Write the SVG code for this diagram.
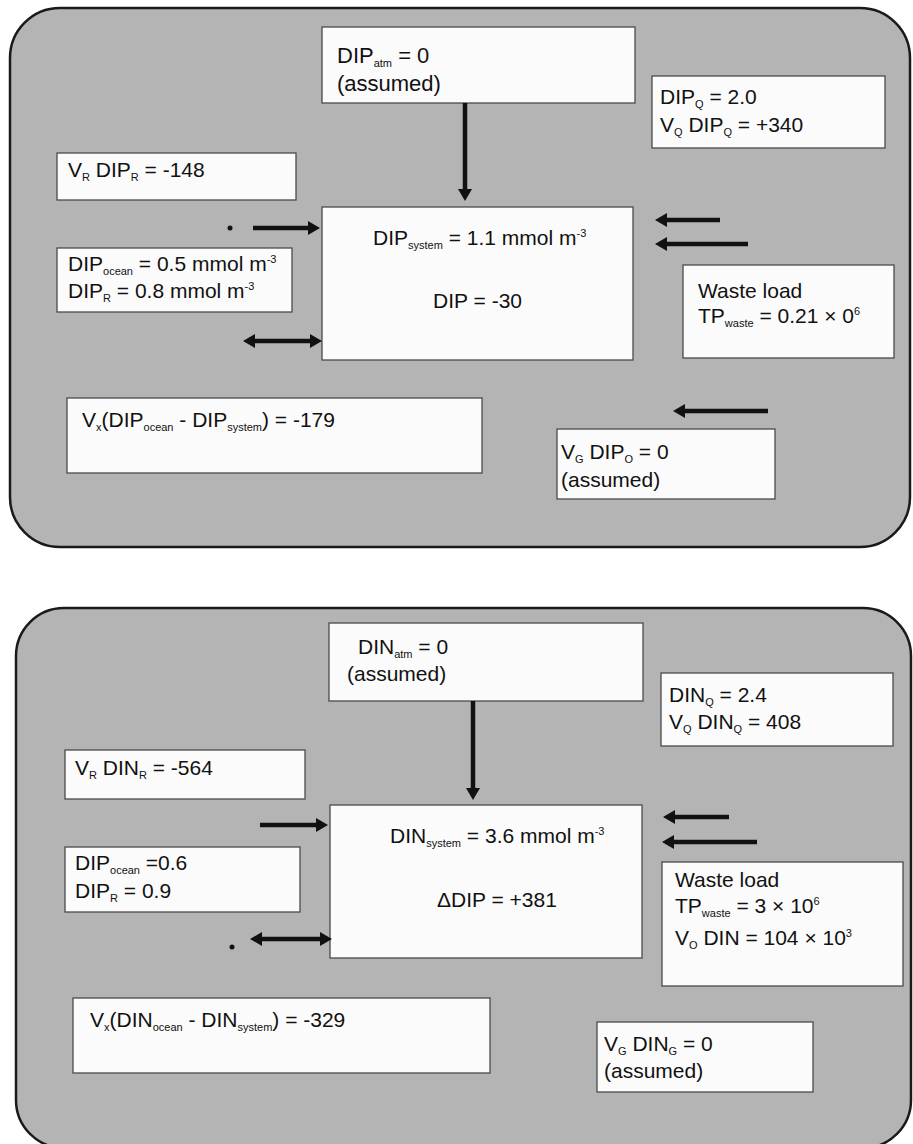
<svg xmlns="http://www.w3.org/2000/svg" width="913" height="1144" viewBox="0 0 913 1144">
<style>
.panel{fill:#b4b4b4;stroke:#1a1a1a;stroke-width:2.5}
.box{fill:#fbfbfb;stroke:#4a4a4a;stroke-width:1.3}
.t{font-family:"Liberation Sans",Arial,sans-serif;font-size:21px;fill:#111}
.s{font-size:11px}
.arr{fill:none;stroke:#111;stroke-width:4.5}
.one{marker-end:url(#ah)}
.two{marker-start:url(#ah);marker-end:url(#ah)}
</style>
<defs>
<marker id="ah" markerUnits="userSpaceOnUse" markerWidth="12" markerHeight="14" refX="2" refY="7" orient="auto-start-reverse">
<path d="M0,0 L12,7 L0,14 z" fill="#111"/>
</marker>
</defs>
<rect width="913" height="1144" fill="#ffffff"/>

<g id="panel-dip">
<rect class="panel" x="10" y="8" width="900" height="539" rx="50" ry="50"/>
</g>
<g id="panel-din">
<rect class="panel" x="16" y="608" width="895" height="540" rx="48" ry="48"/>
</g>

<!-- TOP PANEL NODES -->
<g id="dip-atm">
<rect class="box" x="322" y="27" width="313" height="76"/>
<text class="t" x="337" y="63" style="font-size:22px">DIP<tspan class="s" dy="4">atm</tspan><tspan dy="-4"> = 0</tspan></text>
<text class="t" x="337" y="91" style="font-size:22px">(assumed)</text>
</g>
<g id="dip-q">
<rect class="box" x="652" y="76" width="233" height="72"/>
<text class="t" x="660" y="104">DIP<tspan class="s" dy="4">Q</tspan><tspan dy="-4"> = 2.0</tspan></text>
<text class="t" x="660" y="132">V<tspan class="s" dy="4">Q</tspan><tspan dy="-4"> DIP</tspan><tspan class="s" dy="4">Q</tspan><tspan dy="-4"> = +340</tspan></text>
</g>
<g id="vr-dipr">
<rect class="box" x="57" y="153" width="239" height="47"/>
<text class="t" x="68" y="177">V<tspan class="s" dy="4">R</tspan><tspan dy="-4"> DIP</tspan><tspan class="s" dy="4">R</tspan><tspan dy="-4"> = -148</tspan></text>
</g>
<g id="dip-system">
<rect class="box" x="322" y="207" width="311" height="153"/>
<text class="t" x="373" y="245">DIP<tspan class="s" dy="4">system</tspan><tspan dy="-4"> = 1.1 mmol m</tspan><tspan class="s" dy="-8">-3</tspan></text>
<text class="t" x="522" y="308" text-anchor="end">DIP = -30</text>
</g>
<g id="dip-ocean">
<rect class="box" x="57" y="248" width="235" height="64"/>
<text class="t" x="68" y="271">DIP<tspan class="s" dy="4">ocean</tspan><tspan dy="-4"> = 0.5 mmol m</tspan><tspan class="s" dy="-8">-3</tspan></text>
<text class="t" x="68" y="298">DIP<tspan class="s" dy="4">R</tspan><tspan dy="-4"> = 0.8 mmol m</tspan><tspan class="s" dy="-8">-3</tspan></text>
</g>
<g id="dip-waste">
<rect class="box" x="683" y="265" width="211" height="93"/>
<text class="t" x="698" y="298">Waste load</text>
<text class="t" x="698" y="323">TP<tspan class="s" dy="4">waste</tspan><tspan dy="-4"> = 0.21 × 0</tspan><tspan class="s" dy="-8">6</tspan></text>
</g>
<g id="dip-vx">
<rect class="box" x="67" y="398" width="415" height="75"/>
<text class="t" x="82" y="427">V<tspan class="s" dy="4">x</tspan><tspan dy="-4">(DIP</tspan><tspan class="s" dy="4">ocean</tspan><tspan dy="-4"> - DIP</tspan><tspan class="s" dy="4">system</tspan><tspan dy="-4">) = -179</tspan></text>
</g>
<g id="dip-vg">
<rect class="box" x="557" y="429" width="218" height="70"/>
<text class="t" x="561" y="459">V<tspan class="s" dy="4">G</tspan><tspan dy="-4"> DIP</tspan><tspan class="s" dy="4">O</tspan><tspan dy="-4"> = 0</tspan></text>
<text class="t" x="561" y="487">(assumed)</text>
</g>

<!-- BOTTOM PANEL NODES -->
<g id="din-atm">
<rect class="box" x="329" y="623" width="314" height="78"/>
<text class="t" x="358" y="654">DIN<tspan class="s" dy="4">atm</tspan><tspan dy="-4"> = 0</tspan></text>
<text class="t" x="347" y="681">(assumed)</text>
</g>
<g id="din-q">
<rect class="box" x="661" y="673" width="232" height="73"/>
<text class="t" x="669" y="702">DIN<tspan class="s" dy="4">Q</tspan><tspan dy="-4"> = 2.4</tspan></text>
<text class="t" x="669" y="729">V<tspan class="s" dy="4">Q</tspan><tspan dy="-4"> DIN</tspan><tspan class="s" dy="4">Q</tspan><tspan dy="-4"> = 408</tspan></text>
</g>
<g id="vr-dinr">
<rect class="box" x="65" y="750" width="240" height="49"/>
<text class="t" x="75" y="775">V<tspan class="s" dy="4">R</tspan><tspan dy="-4"> DIN</tspan><tspan class="s" dy="4">R</tspan><tspan dy="-4"> = -564</tspan></text>
</g>
<g id="din-system">
<rect class="box" x="330" y="805" width="312" height="153"/>
<text class="t" x="390" y="843">DIN<tspan class="s" dy="4">system</tspan><tspan dy="-4"> = 3.6 mmol m</tspan><tspan class="s" dy="-8">-3</tspan></text>
<text class="t" x="437" y="907">ΔDIP = +381</text>
</g>
<g id="din-ocean">
<rect class="box" x="65" y="847" width="235" height="65"/>
<text class="t" x="75" y="870">DIP<tspan class="s" dy="4">ocean</tspan><tspan dy="-4"> =0.6</tspan></text>
<text class="t" x="75" y="898">DIP<tspan class="s" dy="4">R</tspan><tspan dy="-4"> = 0.9</tspan></text>
</g>
<g id="din-waste">
<rect class="box" x="662" y="862" width="241" height="124"/>
<text class="t" x="675" y="887">Waste load</text>
<text class="t" x="675" y="913">TP<tspan class="s" dy="4">waste</tspan><tspan dy="-4"> = 3 × 10</tspan><tspan class="s" dy="-8">6</tspan></text>
<text class="t" x="675" y="945">V<tspan class="s" dy="4">O</tspan><tspan dy="-4"> DIN = 104 × 10</tspan><tspan class="s" dy="-8">3</tspan></text>
</g>
<g id="din-vx">
<rect class="box" x="73" y="998" width="417" height="75"/>
<text class="t" x="90" y="1027">V<tspan class="s" dy="4">x</tspan><tspan dy="-4">(DIN</tspan><tspan class="s" dy="4">ocean</tspan><tspan dy="-4"> - DIN</tspan><tspan class="s" dy="4">system</tspan><tspan dy="-4">) = -329</tspan></text>
</g>
<g id="din-vg">
<rect class="box" x="597" y="1022" width="216" height="70"/>
<text class="t" x="604" y="1051">V<tspan class="s" dy="4">G</tspan><tspan dy="-4"> DIN</tspan><tspan class="s" dy="4">G</tspan><tspan dy="-4"> = 0</tspan></text>
<text class="t" x="604" y="1078">(assumed)</text>
</g>

<!-- CONNECTORS -->
<g id="connectors">
<path class="arr one" d="M465,103 V191"/>
<path class="arr one" d="M253,228 H310"/>
<path class="arr one" d="M720,220 H665"/>
<path class="arr one" d="M748,244 H665"/>
<path class="arr two" d="M253,341 H312"/>
<path class="arr one" d="M768,411 H683"/>
<path class="arr one" d="M473,701 V790"/>
<path class="arr one" d="M260,825 H318"/>
<path class="arr one" d="M729,817 H673"/>
<path class="arr one" d="M757,842 H672"/>
<path class="arr two" d="M260,939 H322"/>
<circle cx="230" cy="228" r="2.5" fill="#111"/>
<circle cx="232" cy="947" r="2.5" fill="#111"/>
</g>
</svg>
